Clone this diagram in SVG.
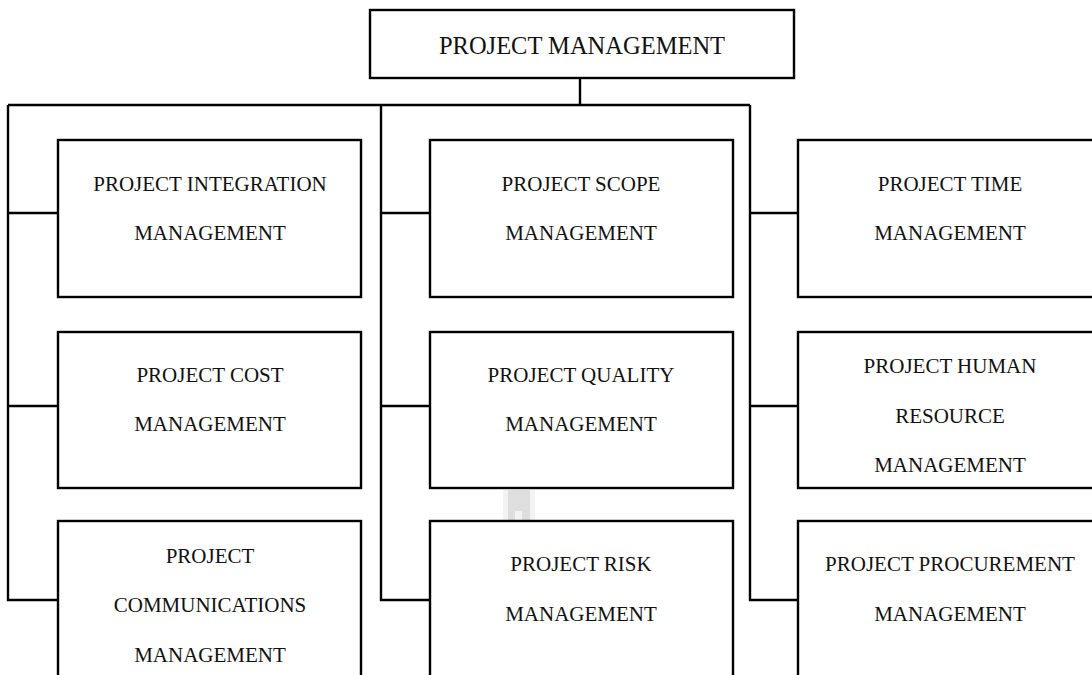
<svg xmlns="http://www.w3.org/2000/svg" width="1092" height="675" viewBox="0 0 1092 675">
<style>
.box{fill:#fff;stroke:#000;stroke-width:2.4}
.conn{fill:none;stroke:#000;stroke-width:2.4}
text{font-family:"Liberation Serif","Times New Roman",serif;font-size:21px;fill:#111;text-anchor:middle}
.title{font-size:24.5px}
</style>
<rect width="1092" height="675" fill="#fff"/>
<g id="connectors">
<path class="conn" d="M580 78V105M8 105H750M8 105V600H58M381 105V600H430M750 105V600H798M8 213H58M8 406H58M381 213H430M381 406H430M750 213H798M750 406H798"/>
</g>
<rect x="503" y="490" width="32" height="31" fill="#f3f3f3"/>
<path d="M508 490H530V521H522V511H515V521H508Z" fill="#dedede"/>
<g id="n-root"><rect class="box" x="370" y="10" width="424" height="68"/><text class="title" x="582" y="54">PROJECT MANAGEMENT</text></g>
<g id="n-integration"><rect class="box" x="58" y="140" width="303" height="157"/><text x="210" y="191">PROJECT INTEGRATION</text><text x="210" y="240">MANAGEMENT</text></g>
<g id="n-scope"><rect class="box" x="430" y="140" width="303" height="157"/><text x="581" y="191">PROJECT SCOPE</text><text x="581" y="240">MANAGEMENT</text></g>
<g id="n-time"><rect class="box" x="798" y="140" width="305" height="157"/><text x="950" y="191">PROJECT TIME</text><text x="950" y="240">MANAGEMENT</text></g>
<g id="n-cost"><rect class="box" x="58" y="332" width="303" height="156"/><text x="210" y="382">PROJECT COST</text><text x="210" y="431">MANAGEMENT</text></g>
<g id="n-quality"><rect class="box" x="430" y="332" width="303" height="156"/><text x="581" y="382">PROJECT QUALITY</text><text x="581" y="431">MANAGEMENT</text></g>
<g id="n-hr"><rect class="box" x="798" y="332" width="305" height="156"/><text x="950" y="373">PROJECT HUMAN</text><text x="950" y="423">RESOURCE</text><text x="950" y="472">MANAGEMENT</text></g>
<g id="n-comm"><rect class="box" x="58" y="521" width="303" height="170"/><text x="210" y="563">PROJECT</text><text x="210" y="612">COMMUNICATIONS</text><text x="210" y="662">MANAGEMENT</text></g>
<g id="n-risk"><rect class="box" x="430" y="521" width="303" height="170"/><text x="581" y="571">PROJECT RISK</text><text x="581" y="621">MANAGEMENT</text></g>
<g id="n-procurement"><rect class="box" x="798" y="521" width="305" height="170"/><text x="950" y="571">PROJECT PROCUREMENT</text><text x="950" y="621">MANAGEMENT</text></g>
</svg>
